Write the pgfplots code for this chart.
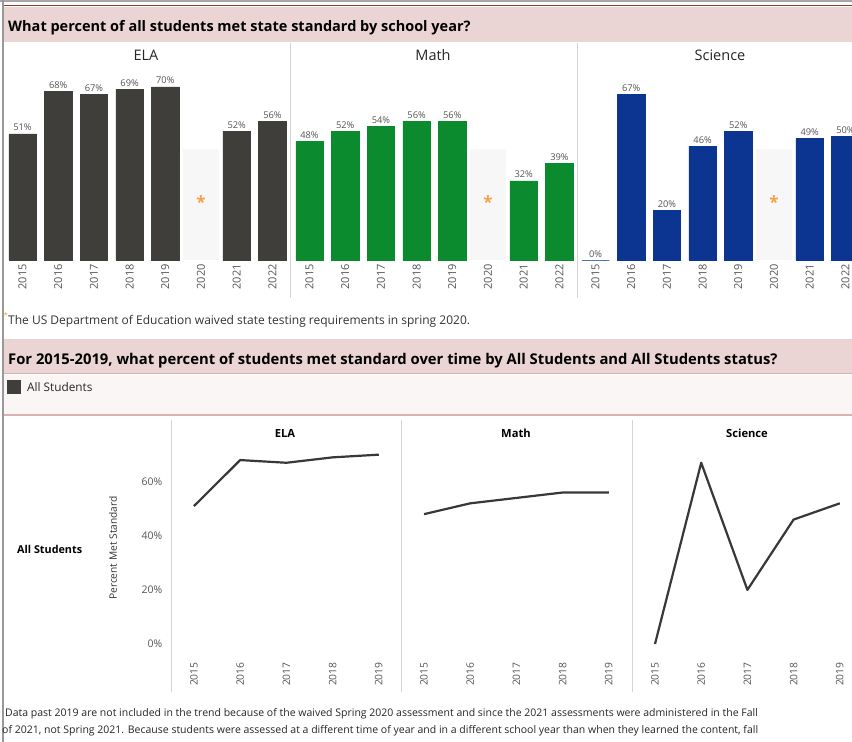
\documentclass[border=0pt]{standalone}
\usepackage{pgfplots}
\pgfplotsset{compat=1.18}
\usepackage{fontspec}
\setmainfont{Open Sans}
\definecolor{band}{HTML}{EAD4D4}
\definecolor{bandline}{HTML}{D9B3B3}
\definecolor{darkred}{HTML}{8E3B2B}
\definecolor{elac}{HTML}{3F3E3B}
\definecolor{mathc}{HTML}{0C8A2E}
\definecolor{scic}{HTML}{0B3590}
\definecolor{labgray}{HTML}{555555}
\definecolor{shade}{HTML}{F7F7F7}
\definecolor{orng}{HTML}{F4A148}
\definecolor{sepgray}{HTML}{D3D3D3}
\definecolor{legband}{HTML}{FAF6F6}
\definecolor{linec}{HTML}{383838}

\pgfplotsset{
 barax/.style={
  scale only axis, width=285.6pt, height=247.5pt,
  xmin=-0.5, xmax=7.5, ymin=0, ymax=100,
  axis line style={draw=none}, tick style={draw=none},
  ytick=\empty, xtick={0,...,7},
  xticklabels={2015,2016,2017,2018,2019,2020,2021,2022},
  xticklabel style={rotate=90, anchor=east, font=\fontsize{11}{12}\selectfont, text=labgray, inner sep=4pt},
  anchor=south west, clip=false,
 },
 barplot/.style={ybar, bar width=27.5pt, bar shift=0pt, fill=#1, draw=#1, line width=0.5pt,
   nodes near coords={\pgfmathprintnumber[assume math mode=true]{\pgfplotspointmeta}\%},
   nodes near coords style={font=\fontsize{9.3}{10}\selectfont, text=labgray, inner sep=2.5pt}},
 shadeplot/.style={ybar, bar width=35.7pt, bar shift=0pt, fill=shade, draw=none},
 linax/.style={
  scale only axis, width=231pt, height=232.6pt,
  xmin=2014.5, xmax=2019.5, ymin=-6, ymax=80,
  axis line style={draw=none}, tick style={draw=none},
  xtick={2015,2016,2017,2018,2019},
  xticklabels={2015,2016,2017,2018,2019},
  xticklabel style={rotate=90, anchor=east, font=\fontsize{10.3}{11}\selectfont, text=labgray, inner sep=2pt},
  ytick=\empty,
  anchor=south west, clip=false,
 },
 lineplot/.style={linec, line width=2.2pt, mark=none, line join=round},
}

\begin{document}
\begin{tikzpicture}
\useasboundingbox (0,0) rectangle (852pt,-742pt);
\clip (0,0) rectangle (852pt,-742pt);
\fill[white] (0,0) rectangle (852pt,-742pt);

% ---- frame and first band
\draw[gray!70, line width=1.2pt] (0,-1pt) -- (852pt,-1pt);
\fill[band] (4pt,-7pt) rectangle (852pt,-42pt);
\draw[darkred, line width=1.8pt] (4pt,-5.5pt) -- (852pt,-5.5pt);
\draw[gray!80, line width=1.4pt] (3pt,0) -- (3pt,-742pt);
\node[anchor=base west, font=\bfseries\fontsize{14.5}{16}\selectfont, text=black, inner sep=0] at (8pt,-31pt)
  {What percent of all students met state standard by school year?};

% panel titles
\node[anchor=base, font=\fontsize{14.5}{16}\selectfont, text=black!85, inner sep=0] at (146pt,-60pt) {ELA};
\node[anchor=base, font=\fontsize{14.5}{16}\selectfont, text=black!85, inner sep=0] at (433pt,-60pt) {Math};
\node[anchor=base, font=\fontsize{14.5}{16}\selectfont, text=black!85, inner sep=0] at (720pt,-60pt) {Science};

% separators
\draw[sepgray, line width=0.8pt] (290.5pt,-43pt) -- (290.5pt,-298pt);
\draw[sepgray, line width=0.8pt] (577pt,-43pt) -- (577pt,-298pt);

% ---- ELA bars
\begin{axis}[barax, at={(4.65pt,-260pt)}]
\addplot[shadeplot] coordinates {(5,45)};
\addplot[barplot=elac] coordinates {(0,51) (1,68) (2,67) (3,69) (4,70) (6,52) (7,56)};
\node[text=orng, font=\bfseries\fontsize{17}{17}\selectfont] at (axis cs:5,23.5) {*};
\end{axis}

% ---- Math bars
\begin{axis}[barax, at={(291.65pt,-260pt)}]
\addplot[shadeplot] coordinates {(5,45)};
\addplot[barplot=mathc] coordinates {(0,48) (1,52) (2,54) (3,56) (4,56) (6,32) (7,39)};
\node[text=orng, font=\bfseries\fontsize{17}{17}\selectfont] at (axis cs:5,23.5) {*};
\end{axis}

% ---- Science bars
\begin{axis}[barax, at={(577.65pt,-260pt)}]
\addplot[shadeplot] coordinates {(5,45)};
\addplot[barplot=scic] coordinates {(0,0) (1,67) (2,20) (3,46) (4,52) (6,49) (7,50)};
\node[text=orng, font=\bfseries\fontsize{17}{17}\selectfont] at (axis cs:5,23.5) {*};
\end{axis}

% footnote
\node[anchor=base west, font=\fontsize{8}{9}\selectfont, text=orng, inner sep=0] at (3.5pt,-318pt) {*};
\node[anchor=base west, font=\fontsize{12}{13}\selectfont, text=black!80, inner sep=0] at (8pt,-324pt)
  {The US Department of Education waived state testing requirements in spring 2020.};
\draw[bandline!60, line width=0.8pt] (4pt,-339pt) -- (852pt,-339pt);

% ---- second band
\fill[band] (4pt,-340pt) rectangle (852pt,-373pt);
\draw[bandline, line width=1.5pt] (4pt,-373.5pt) -- (852pt,-373.5pt);
\fill[legband] (4pt,-374.5pt) rectangle (852pt,-414pt);
\draw[bandline, line width=1.6pt] (4pt,-415pt) -- (852pt,-415pt);
\node[anchor=base west, font=\bfseries\fontsize{14.8}{16}\selectfont, text=black, inner sep=0] at (8pt,-364.5pt)
  {For 2015-2019, what percent of students met standard over time by All Students and All Students status?};
\fill[elac] (7pt,-380pt) rectangle (21pt,-394pt);
\node[anchor=base west, font=\fontsize{11.8}{13}\selectfont, text=black!85, inner sep=0] at (27pt,-391pt) {All Students};

% ---- line chart section
\foreach \xx in {171,401,632} {
  \draw[sepgray, line width=0.8pt] (\xx pt,-420pt) -- (\xx pt,-692pt);
}
\node[anchor=base, font=\bfseries\fontsize{11.2}{13}\selectfont, inner sep=0] at (285pt,-437.5pt) {ELA};
\node[anchor=base, font=\bfseries\fontsize{11.2}{13}\selectfont, inner sep=0] at (516pt,-437.5pt) {Math};
\node[anchor=base, font=\bfseries\fontsize{11.2}{13}\selectfont, inner sep=0] at (747pt,-437.5pt) {Science};
\node[anchor=base west, font=\bfseries\fontsize{10.8}{12}\selectfont, inner sep=0] at (17pt,-553pt) {All Students};
\node[rotate=90, font=\fontsize{10.2}{12}\selectfont, text=black!80, inner sep=0] at (113pt,-548pt) {Percent Met Standard};

\begin{axis}[linax, at={(170.9pt,-660.2pt)},
  ytick={0,20,40,60}, yticklabels={0\%,20\%,40\%,60\%},
  yticklabel style={font=\fontsize{10.5}{12}\selectfont, text=labgray, anchor=east, xshift=-5pt}]
\addplot[lineplot] coordinates {(2015,51) (2016,68) (2017,67) (2018,69) (2019,70)};
\end{axis}
\begin{axis}[linax, at={(400.9pt,-660.2pt)}]
\addplot[lineplot] coordinates {(2015,48) (2016,52) (2017,54) (2018,56) (2019,56)};
\end{axis}
\begin{axis}[linax, at={(631.9pt,-660.2pt)}]
\addplot[lineplot] coordinates {(2015,0) (2016,67) (2017,20) (2018,46) (2019,52)};
\end{axis}

% bottom text
\node[anchor=base west, font=\fontsize{10.5}{12}\selectfont, text=black!85, inner sep=0] at (5pt,-716pt)
  {Data past 2019 are not included in the trend because of the waived Spring 2020 assessment and since the 2021 assessments were administered in the Fall};
\node[anchor=base west, font=\fontsize{10.5}{12}\selectfont, text=black!85, inner sep=0] at (2pt,-733pt)
  {of 2021, not Spring 2021. Because students were assessed at a different time of year and in a different school year than when they learned the content, fall};
\end{tikzpicture}
\end{document}
